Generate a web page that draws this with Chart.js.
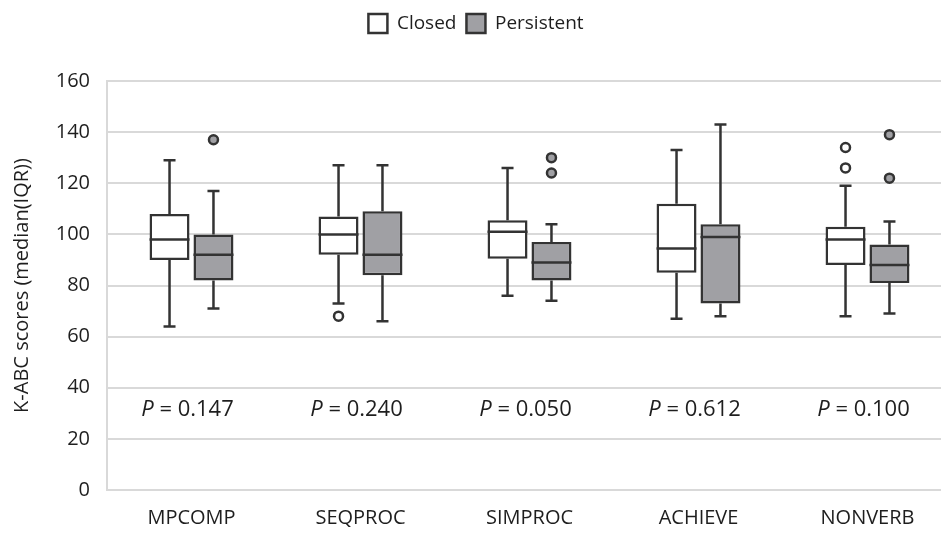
<!DOCTYPE html>
<html>
<head>
<meta charset="utf-8">
<script src="https://cdn.jsdelivr.net/npm/chart.js@4/dist/chart.umd.min.js"></script>
<style>
  html, body { margin: 0; padding: 0; background: #fff; overflow: hidden; }
  #wrap { width: 952px; height: 533px; }
</style>
</head>
<body>
<div id="wrap"><canvas id="chart"></canvas></div>
<script>
// K-ABC scores - box plot Closed vs Persistent

const categories = ['MPCOMP', 'SEQPROC', 'SIMPROC', 'ACHIEVE', 'NONVERB'];
const pValues = ['0.147', '0.240', '0.050', '0.612', '0.100'];

// [min, q1, median, q3, max]
const closedStats = [
    [64, 90, 98, 108, 129],
    [73, 92, 100, 107, 127],
    [76, 90.5, 101, 105.5, 126],
    [67, 85, 94.5, 112, 133],
    [68, 88, 98, 103, 119]
];
const closedOutliers = [[], [68], [], [], [134, 126]];

const persistentStats = [
    [71, 82, 92, 100, 117],
    [66, 84, 92, 109, 127],
    [74, 82, 89, 97, 104],
    [68, 73, 99, 104, 143],
    [69, 81, 88, 96, 105]
];
const persistentOutliers = [[137], [], [130, 124], [], [139, 122]];

const yTicks = [0, 20, 40, 60, 80, 100, 120, 140, 160];

const INK = '#333333';
const TEXT = '#1e1e1e';
const FONT = '"Open Sans", sans-serif';

/**
 * Spazio extra sotto la legenda
 */
const legendGap = {
    id: 'legendGap',
    beforeInit(chart) {
        const fit = chart.legend.fit;
        chart.legend.fit = function() {
            fit.bind(chart.legend)();
            this.height += 38;
        };
    }
};

/**
 * Disegna baffi, mediana, outlier e valori P
 */
const boxPlugin = {
    id: 'boxExtras',
    beforeDatasetsDraw(chart) {
        const y = chart.scales.y;
        const ctx = chart.ctx;
        ctx.save();
        ctx.strokeStyle = INK;
        ctx.lineWidth = 2.5;
        chart.data.datasets.forEach((ds, di) => {
            const meta = chart.getDatasetMeta(di);
            meta.data.forEach((bar, i) => {
                const s = ds.stats[i];
                const x = bar.x;
                ctx.beginPath();
                ctx.moveTo(x, y.getPixelForValue(s[3]));
                ctx.lineTo(x, y.getPixelForValue(s[4]));
                ctx.moveTo(x - 6, y.getPixelForValue(s[4]));
                ctx.lineTo(x + 6, y.getPixelForValue(s[4]));
                ctx.moveTo(x, y.getPixelForValue(s[1]));
                ctx.lineTo(x, y.getPixelForValue(s[0]));
                ctx.moveTo(x - 6, y.getPixelForValue(s[0]));
                ctx.lineTo(x + 6, y.getPixelForValue(s[0]));
                ctx.stroke();
            });
        });
        ctx.restore();
    },
    afterDatasetsDraw(chart) {
        const y = chart.scales.y;
        const xs = chart.scales.x;
        const ctx = chart.ctx;
        ctx.save();
        ctx.strokeStyle = INK;
        ctx.lineWidth = 2.5;
        chart.data.datasets.forEach((ds, di) => {
            const meta = chart.getDatasetMeta(di);
            meta.data.forEach((bar, i) => {
                const s = ds.stats[i];
                const half = bar.width / 2;
                const ym = y.getPixelForValue(s[2]);
                ctx.beginPath();
                ctx.moveTo(bar.x - half, ym);
                ctx.lineTo(bar.x + half, ym);
                ctx.stroke();
                ds.outliers[i].forEach(v => {
                    ctx.beginPath();
                    ctx.arc(bar.x, y.getPixelForValue(v), 4.5, 0, Math.PI * 2);
                    ctx.fillStyle = ds.backgroundColor;
                    ctx.fill();
                    ctx.stroke();
                });
            });
        });

        // Valori P
        ctx.fillStyle = TEXT;
        ctx.textBaseline = 'middle';
        const py = y.getPixelForValue(31.5);
        pValues.forEach((p, i) => {
            const cx = xs.getPixelForValue(i);
            ctx.font = 'italic 22px ' + FONT;
            const wP = ctx.measureText('P').width;
            ctx.font = '22px ' + FONT;
            const rest = ' = ' + p;
            const wR = ctx.measureText(rest).width;
            const x0 = cx - (wP + wR) / 2 - 4;
            ctx.font = 'italic 22px ' + FONT;
            ctx.fillText('P', x0, py);
            ctx.font = '22px ' + FONT;
            ctx.fillText(rest, x0 + wP, py);
        });
        ctx.restore();
    }
};

new Chart(document.getElementById('chart'), {
    type: 'bar',
    data: {
        labels: categories,
        datasets: [
            {
                label: 'Closed',
                data: closedStats.map(s => [s[1], s[3]]),
                stats: closedStats,
                outliers: closedOutliers,
                backgroundColor: '#ffffff',
                borderColor: INK,
                borderWidth: 2.5,
                borderSkipped: false,
                categoryPercentage: 0.52,
                barPercentage: 0.91
            },
            {
                label: 'Persistent',
                data: persistentStats.map(s => [s[1], s[3]]),
                stats: persistentStats,
                outliers: persistentOutliers,
                backgroundColor: '#a0a0a4',
                borderColor: INK,
                borderWidth: 2.5,
                borderSkipped: false,
                categoryPercentage: 0.52,
                barPercentage: 0.91
            }
        ]
    },
    options: {
        responsive: true,
        maintainAspectRatio: false,
        animation: false,
        layout: { padding: { top: 4, right: 0, bottom: 0, left: 0 } },
        plugins: {
            legend: {
                display: true,
                position: 'top',
                labels: {
                    color: TEXT,
                    font: { family: FONT, size: 19 },
                    boxWidth: 19,
                    boxHeight: 19,
                    padding: 10
                }
            },
            tooltip: { enabled: false }
        },
        scales: {
            y: {
                min: 0,
                max: 160,
                afterBuildTicks: scale => {
                    scale.ticks = yTicks.map(v => ({ value: v }));
                },
                afterFit: scale => { scale.width = 107; },
                grid: {
                    color: '#d9d9d9',
                    lineWidth: 2,
                    drawTicks: false
                },
                border: { display: true, color: '#d9d9d9', width: 2 },
                ticks: {
                    color: TEXT,
                    padding: 17,
                    font: { family: FONT, size: 20 }
                },
                title: {
                    display: true,
                    text: 'K-ABC scores (median(IQR))',
                    color: TEXT,
                    font: { family: FONT, size: 20 },
                    padding: { top: 10, bottom: 2 }
                }
            },
            x: {
                grid: { display: false, drawTicks: false },
                border: { display: false },
                afterFit: scale => { scale.height = 43; },
                ticks: {
                    color: TEXT,
                    padding: 16,
                    font: { family: FONT, size: 20 }
                }
            }
        }
    },
    plugins: [legendGap, boxPlugin]
});
</script>
</body>
</html>
